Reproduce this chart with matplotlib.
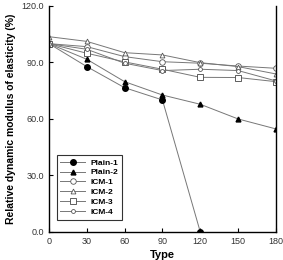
import matplotlib
matplotlib.use("Agg")
import matplotlib.pyplot as plt

plt.rcParams['font.family'] = ['Liberation Sans', 'DejaVu Sans']

# cycles
x = [0, 30, 60, 90, 120, 150, 180]

plain1 = [100.0, 87.8, 76.6, 70.1, 0.0]
plain2 = [100.0, 91.7, 79.8, 72.7, 67.8, 60.0, 54.7]
icm1 = [100.0, 98.4, 93.1, 90.4, 89.6, 88.1, 86.9]
icm2 = [103.7, 101.2, 95.2, 94.0, 89.9, 87.8, 83.9]
icm3 = [100.0, 94.9, 90.3, 86.4, 82.1, 82.0, 79.8]
icm4 = [100.0, 97.0, 89.6, 85.7, 86.4, 85.7, 80.2]

fig = plt.figure(figsize=(2.83, 2.60), dpi=100)
ax = fig.add_axes([0.173, 0.108, 0.802, 0.869])

lc = '#777777'
ax.plot(x[:5], plain1, color=lc, lw=0.7, marker='o', ms=4, mfc='black', mec='black', label='Plain-1')
ax.plot(x, plain2, color=lc, lw=0.7, marker='^', ms=3.5, mfc='black', mec='black', label='Plain-2')
ax.plot(x, icm1, color=lc, lw=0.7, marker='o', ms=4, mfc='white', mec='#555555', mew=0.6, label='ICM-1')
ax.plot(x, icm2, color=lc, lw=0.7, marker='^', ms=3.5, mfc='white', mec='#555555', mew=0.6, label='ICM-2')
ax.plot(x, icm3, color=lc, lw=0.7, marker='s', ms=4, mfc='white', mec='#444444', mew=0.6, label='ICM-3')
ax.plot(x, icm4, color=lc, lw=0.7, marker='o', ms=2.8, mfc='white', mec='#555555', mew=0.6, label='ICM-4')

ax.set_xlim(0, 180)
ax.set_ylim(0, 120)
ax.set_xticks(x)
ax.set_yticks([0, 30, 60, 90, 120])
ax.set_yticklabels(['0.0', '30.0', '60.0', '90.0', '120.0'])
ax.tick_params(direction='in', labelsize=6.5, length=3, width=0.8, colors='black', labelcolor='#333333')
ax.spines['top'].set_visible(False)
for s in ['left', 'right', 'bottom']:
    ax.spines[s].set_linewidth(1.0)

ax.set_ylabel('Relative dynamic modulus of elasticity (%)', fontsize=7.5, fontweight='bold', labelpad=4)
ax.set_xlabel('Type', fontsize=8, fontweight='bold', labelpad=3)

leg = ax.legend(loc='lower left', bbox_to_anchor=(0.015, 0.035), frameon=True, fancybox=False,
                edgecolor='black', handlelength=3.0, handletextpad=0.6, labelspacing=0.25,
                borderpad=0.45, prop={'weight': 'bold', 'size': 6})
leg.get_frame().set_linewidth(0.8)

fig.savefig('out.png', dpi=100)
